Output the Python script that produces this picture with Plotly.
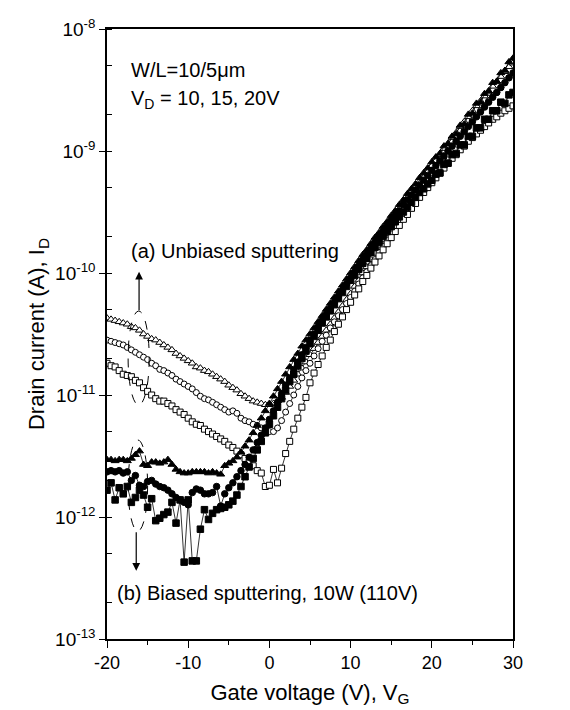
import numpy as np
import plotly.graph_objects as go

# Gate voltage sweep (V)
VG = [-20, -19.5, -19, -18.5, -18, -17.5, -17, -16.5, -16, -15.5,
      -15, -14.5, -14, -13.5, -13, -12.5, -12, -11.5, -11, -10.5,
      -10, -9.5, -9, -8.5, -8, -7.5, -7, -6.5, -6, -5.5,
      -5, -4.5, -4, -3.5, -3, -2.5, -2, -1.5, -1, -0.5,
      0, 0.5, 1, 1.5, 2, 2.5, 3, 3.5, 4, 4.5,
      5, 5.5, 6, 6.5, 7, 7.5, 8, 8.5, 9, 9.5,
      10, 10.5, 11, 11.5, 12, 12.5, 13, 13.5, 14, 14.5,
      15, 15.5, 16, 16.5, 17, 17.5, 18, 18.5, 19, 19.5,
      20, 20.5, 21, 21.5, 22, 22.5, 23, 23.5, 24, 24.5,
      25, 25.5, 26, 26.5, 27, 27.5, 28, 28.5, 29, 29.5,
      30]

# log10 of drain current (A)
# (b) biased sputtering: filled symbols
biased_tri = [-11.53, -11.53, -11.54, -11.53, -11.53, -11.54, -11.52, -11.49, -11.46, -11.57,
              -11.58, -11.55, -11.55, -11.56, -11.55, -11.53, -11.57, -11.61, -11.63, -11.64,
              -11.64, -11.63, -11.63, -11.63, -11.63, -11.64, -11.63, -11.64, -11.65, -11.58,
              -11.56, -11.54, -11.51, -11.47, -11.42, -11.37, -11.31, -11.25, -11.19, -11.13,
              -11.07, -11.01, -10.95, -10.89, -10.83, -10.77, -10.71, -10.66, -10.60, -10.55,
              -10.50, -10.45, -10.40, -10.35, -10.30, -10.25, -10.20, -10.15, -10.10, -10.05,
              -10.00, -9.95, -9.90, -9.85, -9.81, -9.76, -9.71, -9.67, -9.62, -9.58,
              -9.53, -9.49, -9.44, -9.40, -9.35, -9.31, -9.27, -9.22, -9.18, -9.14,
              -9.09, -9.05, -9.02, -8.96, -8.94, -8.88, -8.86, -8.79, -8.78, -8.70,
              -8.69, -8.61, -8.60, -8.53, -8.51, -8.44, -8.43, -8.36, -8.34, -8.27,
              -8.24]
biased_cir = [-11.63, -11.62, -11.63, -11.62, -11.64, -11.63, -11.70, -11.66, -11.74, -11.75,
              -11.71, -11.70, -11.73, -11.75, -11.76, -11.78, -11.81, -11.84, -11.86, -11.88,
              -11.90, -11.80, -11.77, -11.78, -11.81, -11.81, -11.80, -11.75, -11.91, -11.81,
              -11.76, -11.72, -11.67, -11.62, -11.57, -11.51, -11.45, -11.39, -11.33, -11.27,
              -11.20, -11.13, -11.06, -10.99, -10.92, -10.86, -10.79, -10.73, -10.67, -10.61,
              -10.55, -10.50, -10.44, -10.39, -10.34, -10.29, -10.24, -10.19, -10.14, -10.09,
              -10.04, -9.99, -9.94, -9.89, -9.85, -9.80, -9.75, -9.71, -9.66, -9.62,
              -9.57, -9.53, -9.49, -9.44, -9.40, -9.36, -9.32, -9.28, -9.24, -9.20,
              -9.16, -9.12, -9.08, -9.04, -9.00, -8.96, -8.92, -8.88, -8.84, -8.80,
              -8.76, -8.72, -8.68, -8.64, -8.60, -8.56, -8.52, -8.48, -8.44, -8.40,
              -8.36]
biased_sq = [-11.78, -11.72, -11.86, -11.76, -11.81, -11.75, -11.88, -11.84, -11.78, -11.82,
             -11.92, -11.85, -12.03, -12.01, -11.98, -11.96, -11.88, -12.05, -11.86, -12.37,
             -11.86, -12.36, -12.36, -12.10, -11.94, -12.02, -11.97, -11.94, -11.93, -11.92,
             -11.90, -11.87, -11.82, -11.75, -11.67, -11.59, -11.52, -11.45, -11.38, -11.31,
             -11.24, -11.17, -11.10, -11.03, -10.96, -10.89, -10.83, -10.76, -10.70, -10.64,
             -10.58, -10.52, -10.47, -10.41, -10.36, -10.31, -10.26, -10.21, -10.16, -10.11,
             -10.06, -10.02, -9.97, -9.92, -9.88, -9.83, -9.79, -9.75, -9.70, -9.66,
             -9.62, -9.58, -9.54, -9.50, -9.46, -9.42, -9.38, -9.34, -9.31, -9.27,
             -9.24, -9.19, -9.18, -9.11, -9.10, -9.03, -9.02, -8.95, -8.95, -8.88,
             -8.88, -8.81, -8.81, -8.74, -8.74, -8.67, -8.67, -8.60, -8.61, -8.54,
             -8.52]
# (a) unbiased sputtering: open symbols
unbiased_tri = [-10.37, -10.38, -10.39, -10.40, -10.41, -10.42, -10.44, -10.45, -10.47, -10.50,
                -10.52, -10.54, -10.55, -10.57, -10.59, -10.61, -10.63, -10.66, -10.68, -10.70,
                -10.72, -10.74, -10.77, -10.78, -10.80, -10.81, -10.83, -10.85, -10.87, -10.89,
                -10.92, -10.94, -10.96, -10.99, -11.01, -11.03, -11.05, -11.06, -11.07, -11.08,
                -11.08, -11.07, -11.05, -11.02, -10.98, -10.93, -10.88, -10.83, -10.78, -10.73,
                -10.67, -10.62, -10.57, -10.52, -10.47, -10.42, -10.37, -10.32, -10.27, -10.22,
                -10.17, -10.11, -10.06, -10.00, -9.95, -9.89, -9.84, -9.78, -9.73, -9.68,
                -9.63, -9.57, -9.52, -9.47, -9.42, -9.37, -9.32, -9.27, -9.22, -9.17,
                -9.12, -9.08, -9.03, -8.98, -8.94, -8.89, -8.85, -8.80, -8.76, -8.72,
                -8.67, -8.63, -8.59, -8.55, -8.51, -8.47, -8.43, -8.39, -8.35, -8.31,
                -8.28]
unbiased_cir = [-10.55, -10.56, -10.57, -10.58, -10.59, -10.61, -10.63, -10.65, -10.67, -10.69,
                -10.71, -10.74, -10.76, -10.79, -10.80, -10.82, -10.84, -10.87, -10.89, -10.91,
                -10.93, -10.95, -10.98, -11.01, -11.03, -11.04, -11.06, -11.08, -11.10, -11.12,
                -11.14, -11.13, -11.15, -11.19, -11.21, -11.22, -11.24, -11.25, -11.27, -11.29,
                -11.30, -11.30, -11.27, -11.21, -11.14, -11.07, -11.00, -10.93, -10.86, -10.80,
                -10.74, -10.68, -10.62, -10.56, -10.51, -10.45, -10.40, -10.35, -10.30, -10.25,
                -10.20, -10.15, -10.09, -10.04, -9.99, -9.94, -9.89, -9.83, -9.78, -9.73,
                -9.68, -9.63, -9.58, -9.53, -9.48, -9.43, -9.38, -9.33, -9.28, -9.23,
                -9.18, -9.14, -9.09, -9.05, -9.00, -8.96, -8.92, -8.87, -8.83, -8.79,
                -8.75, -8.71, -8.67, -8.63, -8.59, -8.55, -8.52, -8.48, -8.44, -8.40,
                -8.37]
unbiased_sq = [-10.74, -10.76, -10.77, -10.80, -10.83, -10.84, -10.85, -10.88, -10.90, -10.94,
               -10.97, -11.00, -11.03, -11.05, -11.05, -11.07, -11.09, -11.12, -11.14, -11.16,
               -11.19, -11.22, -11.24, -11.25, -11.28, -11.30, -11.32, -11.34, -11.36, -11.38,
               -11.41, -11.43, -11.46, -11.49, -11.52, -11.55, -11.58, -11.62, -11.64, -11.75,
               -11.74, -11.61, -11.72, -11.60, -11.48, -11.38, -11.28, -11.19, -11.10, -11.02,
               -10.90, -10.82, -10.75, -10.68, -10.61, -10.55, -10.48, -10.42, -10.36, -10.30,
               -10.24, -10.18, -10.13, -10.07, -10.02, -9.96, -9.91, -9.86, -9.81, -9.76,
               -9.71, -9.66, -9.61, -9.56, -9.52, -9.47, -9.43, -9.38, -9.34, -9.30,
               -9.26, -9.22, -9.18, -9.14, -9.10, -9.06, -9.03, -8.99, -8.96, -8.92,
               -8.89, -8.86, -8.83, -8.80, -8.77, -8.74, -8.72, -8.69, -8.67, -8.65,
               -8.63]

# Axis ticks
x_ticks = [-20, -10, 0, 10, 20, 30]
x_labels = ["-20", "-10", "0", "10", "20", "30"]
y_exponents = [-13, -12, -11, -10, -9, -8]

FONT = "Liberation Sans, Arial, sans-serif"

series = [
    ("Unbiased, triangles", unbiased_tri, "triangle-up", "white", 7),
    ("Unbiased, circles", unbiased_cir, "circle", "white", 6),
    ("Unbiased, squares", unbiased_sq, "square", "white", 6),
    ("Biased, squares", biased_sq, "square", "black", 6.5),
    ("Biased, circles", biased_cir, "circle", "black", 6.5),
    ("Biased, triangles", biased_tri, "triangle-up", "black", 7),
]

fig = go.Figure()
for name, logs, sym, fill, size in series:
    fig.add_trace(go.Scatter(
        x=VG, y=10 ** np.array(logs), name=name, mode="lines+markers",
        line=dict(color="black", width=0.8),
        marker=dict(symbol=sym, size=size, color=fill,
                    line=dict(color="black", width=1)),
        showlegend=False, cliponaxis=True))

yr = [min(y_exponents), max(y_exponents)]
fig.update_layout(
    width=570, height=710,
    margin=dict(l=99, r=65, t=21, b=79, autoexpand=False),
    paper_bgcolor="white", plot_bgcolor="white",
    font=dict(family=FONT, size=18, color="black"),
    xaxis=dict(range=[-20, 30], tickvals=x_ticks, ticktext=x_labels,
               ticks="outside", ticklen=7, tickwidth=1.2, tickcolor="black",
               tickfont=dict(size=18),
               minor=dict(dtick=5, ticks="outside", ticklen=4, tickcolor="black"),
               showline=True, linecolor="black", linewidth=1.5, mirror=True,
               showgrid=False, zeroline=False, automargin=False,
               title=dict(text="Gate voltage (V), V<sub>G</sub>",
                          font=dict(size=22), standoff=12)),
    yaxis=dict(type="log", range=yr, tickvals=[10.0 ** e for e in y_exponents],
               ticktext=["10<sup>%d</sup>" % e for e in y_exponents],
               tickfont=dict(size=19),
               ticks="outside", ticklen=6, tickwidth=1.2, tickcolor="black",
               minor=dict(ticks="inside", ticklen=5, tickcolor="black", showgrid=False),
               showline=True, linecolor="black", linewidth=1.5, mirror=True,
               showgrid=False, zeroline=False, automargin=False,
               title=dict(text="Drain current (A), I<sub>D</sub>",
                          font=dict(size=22), standoff=4)),
    xaxis2=dict(overlaying="x", side="top", matches="x", range=[-20, 30],
                dtick=5, tick0=0, ticks="inside", ticklen=6, tickcolor="black",
                showticklabels=False, showline=False, showgrid=False, zeroline=False,
                automargin=False),
    yaxis2=dict(overlaying="y", side="right", type="log", range=yr,
                tickvals=[10.0 ** e for e in y_exponents], ticks="inside", ticklen=7,
                tickcolor="black",
                minor=dict(ticks="inside", ticklen=5, tickcolor="black", showgrid=False),
                showticklabels=False, showline=False, showgrid=False, zeroline=False,
                automargin=False),
)

ann_font = dict(family=FONT, size=20, color="black")
fig.add_annotation(x=-17.3, y=-8.34, xref="x", yref="y", text="W/L=10/5\u03bcm",
                   showarrow=False, xanchor="left", yanchor="middle", font=ann_font)
fig.add_annotation(x=-17.3, y=-8.58, xref="x", yref="y", text="V<sub>D</sub> = 10, 15, 20V",
                   showarrow=False, xanchor="left", yanchor="middle", font=ann_font)
fig.add_annotation(x=-17.3, y=-9.82, xref="x", yref="y", text="(a) Unbiased sputtering",
                   showarrow=False, xanchor="left", yanchor="middle", font=ann_font)
fig.add_annotation(x=-19.0, y=-12.62, xref="x", yref="y",
                   text="(b) Biased sputtering, 10W (110V)",
                   showarrow=False, xanchor="left", yanchor="middle", font=ann_font)
# arrows
fig.add_annotation(x=-16.05, y=-9.99, xref="x", yref="y", ax=0, ay=40, text="",
                   showarrow=True, arrowhead=2, arrowsize=1.3, arrowwidth=1.2,
                   arrowcolor="black")
fig.add_annotation(x=-16.4, y=-12.44, xref="x", yref="y", ax=0, ay=-40, text="",
                   showarrow=True, arrowhead=2, arrowsize=1.3, arrowwidth=1.2,
                   arrowcolor="black")
# dashed ellipses (paper y: (631 - py) / 610)
fig.add_shape(type="circle", xref="x", yref="paper", x0=-17.4, x1=-14.8,
              y0=(631 - 397) / 610, y1=(631 - 303) / 610,
              line=dict(color="black", width=1, dash="dash"))
fig.add_shape(type="circle", xref="x", yref="paper", x0=-17.4, x1=-15.0,
              y0=(631 - 523) / 610, y1=(631 - 432) / 610,
              line=dict(color="black", width=1, dash="dash"))

fig.write_html("out.html")
